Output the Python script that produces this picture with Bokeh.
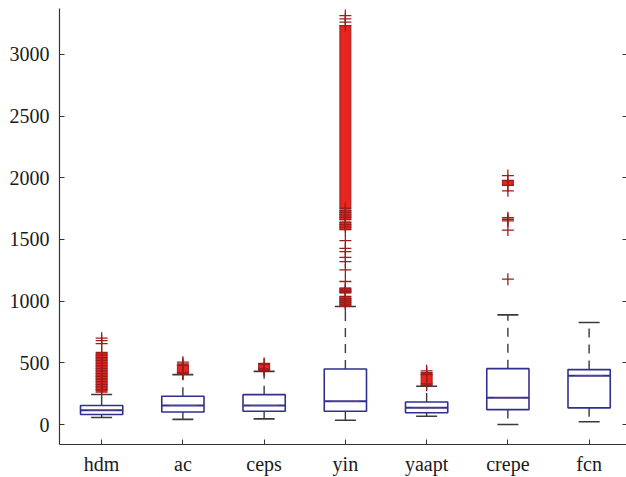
import numpy as np
from bokeh.plotting import figure
from bokeh.models import Range1d, FixedTicker, LinearAxis
from bokeh.embed import file_html
from bokeh.resources import INLINE

# ---- data ----
categories = ["hdm", "ac", "ceps", "yin", "yaapt", "crepe", "fcn"]
positions = [1, 2, 3, 4, 5, 6, 7]
q1 = [81, 102, 108, 108, 95, 121, 135]
median = [116, 154, 154, 188, 135, 216, 396]
q3 = [154, 229, 242, 450, 183, 453, 445]
whisker_low = [57, 42, 46, 35, 67, 0, 22]
whisker_high = [243, 404, 431, 956, 310, 889, 827]

# individual outliers ("+" markers)
hdm_out = [262, 283, 305, 326, 348, 369, 391, 412, 434, 455, 477, 498, 520, 541, 563, 585, 655, 680, 700]
ac_out = [410, 420, 480, 492, 505]
ceps_out = [440, 450, 488, 495]
yin_out = [960, 975, 990, 1005, 1020, 1038, 1068, 1080, 1092, 1105, 1159, 1253, 1320, 1355, 1401,
           1428, 1490, 1580, 1600, 1620, 1640, 1660, 1680, 1700, 1720, 1738, 1752, 3234, 3261, 3288, 3315]
yaapt_out = [318, 330, 405, 420, 435]
crepe_out = [1178, 1576, 1650, 1663, 1676, 1894, 1938, 1978, 2018]
fcn_out = []
outliers = [hdm_out, ac_out, ceps_out, yin_out, yaapt_out, crepe_out, fcn_out]

# runs of outliers so dense that they merge into a solid red column
band_cat = [1, 2, 3, 4, 4, 4, 4, 4, 5, 6]
band_lo = [270, 415, 448, 1752, 1660, 1580, 1068, 960, 322, 1938]
band_hi = [580, 485, 490, 3234, 1738, 1640, 1105, 1038, 415, 1978]

yticks = [0, 500, 1000, 1500, 2000, 2500, 3000]

# ---- styles ----
BOX = "#30308e"
WHISK = "#3a3a3a"
RED = "#e8261f"
DARKRED = "#9c1c1c"
FONT = "Liberation Serif"

p = figure(width=626, height=477, output_backend="svg", toolbar_location=None,
           x_range=Range1d(0.4815, 7.46), y_range=Range1d(-162, 3372),
           min_border_left=59, min_border_right=0, min_border_top=8, min_border_bottom=32)
p.outline_line_color = None
p.grid.visible = False
p.background_fill_color = "white"

pos = np.array(positions, dtype=float)

# whiskers (dashed)
p.segment(x0=pos, y0=q3, x1=pos, y1=whisker_high, line_color=WHISK, line_width=1.4, line_dash="9 7")
p.segment(x0=pos, y0=q1, x1=pos, y1=whisker_low, line_color=WHISK, line_width=1.4, line_dash="9 7")
# caps
p.scatter(x=pos, y=whisker_high, marker="dash", size=21, line_color=WHISK, line_width=1.6)
p.scatter(x=pos, y=whisker_low, marker="dash", size=21, line_color=WHISK, line_width=1.6)

# boxes
p.vbar(x=pos, bottom=q1, top=q3, width=0.52, fill_color="white", line_color=BOX, line_width=1.6)
# medians
p.scatter(x=pos, y=median, marker="dash", size=42, line_color=BOX, line_width=2.0)
p.scatter(x=pos, y=median, marker="dash", size=28, line_color="#e0603a", line_width=0.6, line_alpha=0.6)

# dense outlier runs
p.vbar(x=band_cat, bottom=band_lo, top=band_hi, width=0.135, fill_color=RED,
       line_color=DARKRED, line_width=1.0)

# individual outliers
ox, oy = [], []
for c, vals in zip(positions, outliers):
    for v in vals:
        ox.append(c)
        oy.append(v)
p.scatter(x=ox, y=oy, marker="cross", size=12, line_color=DARKRED, line_width=1.3)

# axes
p.xaxis.ticker = FixedTicker(ticks=positions)
p.xaxis.major_label_overrides = {c: n for c, n in zip(positions, categories)}
p.yaxis.ticker = FixedTicker(ticks=yticks)
for ax in (p.xaxis[0], p.yaxis[0]):
    ax.axis_line_color = "#333333"
    ax.axis_line_width = 1.2
    ax.major_tick_in = 5
    ax.major_tick_out = 0
    ax.major_tick_line_color = "#333333"
    ax.minor_tick_line_color = None
    ax.major_label_text_font = FONT
    ax.major_label_text_font_size = "20px"
    ax.major_label_text_color = "#1a1a1a"
p.yaxis.major_label_standoff = 10
p.xaxis.major_label_standoff = 8

raxis = LinearAxis(ticker=FixedTicker(ticks=yticks),
                   major_label_overrides={t: "" for t in yticks},
                   major_label_standoff=0, major_tick_in=4, major_tick_out=0,
                   minor_tick_line_color=None, axis_line_color="#333333",
                   major_tick_line_color="#333333")
p.add_layout(raxis, "right")

open("out.html", "w").write(file_html(p, INLINE))
